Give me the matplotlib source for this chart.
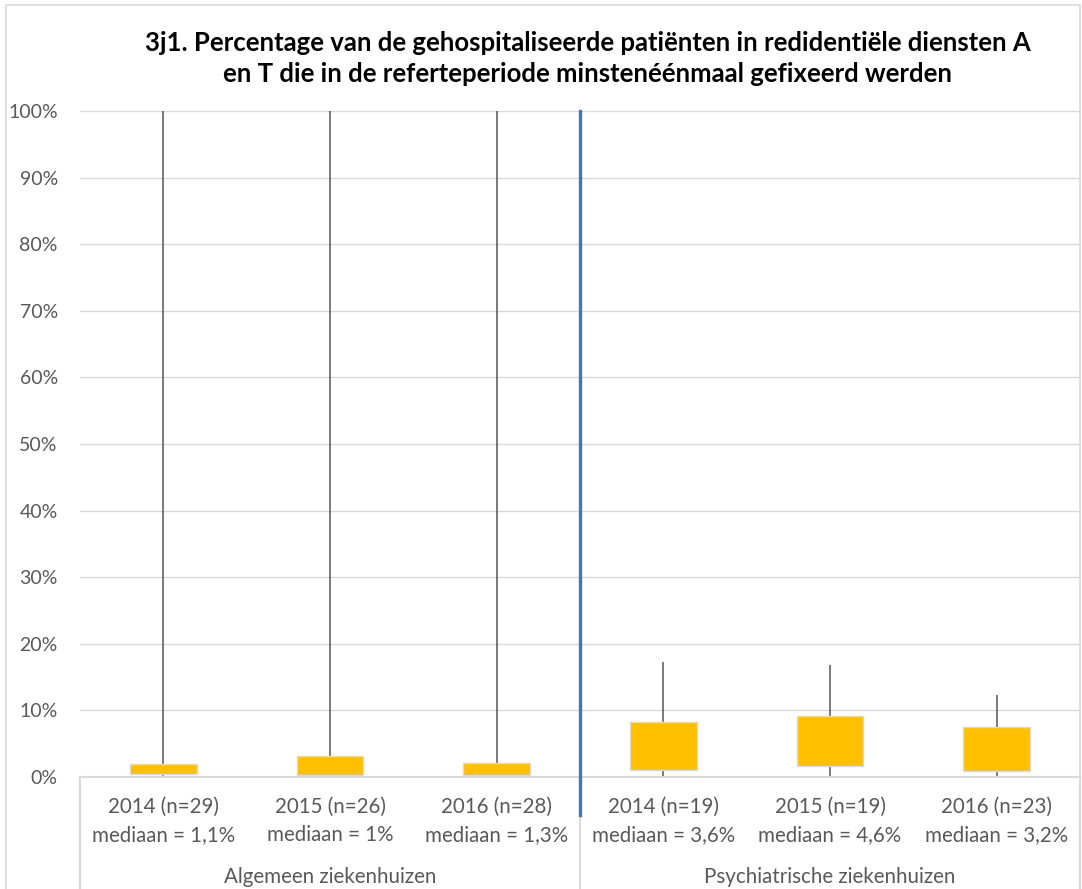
import matplotlib.pyplot as plt
from matplotlib.patches import Rectangle

years = ['2014 (n=29)', '2015 (n=26)', '2016 (n=28)',
         '2014 (n=19)', '2015 (n=19)', '2016 (n=23)']
medians = ['mediaan = 1,1%', 'mediaan = 1%', 'mediaan = 1,3%',
           'mediaan = 3,6%', 'mediaan = 4,6%', 'mediaan = 3,2%']
groups = ['Algemeen ziekenhuizen', 'Psychiatrische ziekenhuizen']

# percentages
whisker_low = [0, 0, 0, 0, 0, 0]
q1 = [0.45, 0.3, 0.3, 1.1, 1.65, 0.85]
q3 = [1.95, 3.2, 2.15, 8.3, 9.2, 7.45]
whisker_high = [100, 100, 100, 17.2, 16.8, 12.3]

plt.rcParams['font.family'] = ['Lato', 'DejaVu Sans']
grey = '#595959'

fig = plt.figure(figsize=(10.82, 8.89), dpi=100)
ax = fig.add_axes([80 / 1082, 112 / 889, 1000 / 1082, 666 / 889])

x = list(range(len(years)))
ax.vlines(x, whisker_low, whisker_high, color='#555555', lw=1.1, zorder=2)
ax.bar(x, [h - l for l, h in zip(q1, q3)], bottom=q1, width=0.4,
       color='#FFC000', edgecolor='#d9d9d9', linewidth=1, zorder=3)

ax.set_xlim(-0.5, 5.5)
ax.set_ylim(0, 100)
ax.set_yticks(range(0, 101, 10))
ax.set_yticklabels([f'{v}%' for v in range(0, 101, 10)])
ax.tick_params(axis='y', length=0, pad=16, labelsize=14, labelcolor=grey)
ax.set_xticks([])
ax.grid(axis='y', color='#d9d9d9', lw=1)
ax.set_axisbelow(True)
for s in ['top', 'left', 'right']:
    ax.spines[s].set_visible(False)
ax.spines['bottom'].set_color('#d9d9d9')
ax.spines['bottom'].set_linewidth(1.5)

# category labels under the axis
for i in x:
    ax.annotate(years[i], (i, 0), xycoords=('data', 'axes fraction'),
                xytext=(0, -30), textcoords='offset pixels',
                ha='center', va='center', fontsize=14.8, color=grey)
    ax.annotate(medians[i], (i, 0), xycoords=('data', 'axes fraction'),
                xytext=(0, -58), textcoords='offset pixels',
                ha='center', va='center', fontsize=14.8, color=grey)
for g, gx in zip(groups, [1, 4]):
    ax.annotate(g, (gx, 0), xycoords=('data', 'axes fraction'),
                xytext=(0, -100), textcoords='offset pixels',
                ha='center', va='center', fontsize=14.8, color=grey)

# separators of the category axis
for sx in [-0.5, 2.5, 5.5]:
    ax.annotate('', (sx, 0), xycoords=('data', 'axes fraction'),
                xytext=(sx, -0.2), textcoords=('data', 'axes fraction'),
                arrowprops=dict(arrowstyle='-', color='#d9d9d9', lw=1.5,
                                shrinkA=0, shrinkB=0))

# blue divider between the two hospital types
ax.plot([2.5, 2.5], [100, -5.7], color='#4472C4', lw=2.4,
        clip_on=False, zorder=4)

fig.text(0.543, 0.934, '3j1. Percentage van de gehospitaliseerde patiënten in redidentiële diensten A\n'
         'en T die in de referteperiode minstenéénmaal gefixeerd werden',
         ha='center', va='center', fontsize=18.5, fontweight='bold',
         linespacing=1.33, color='#000000')

fig.add_artist(Rectangle((6 / 1082, -0.01), 1074 / 1082, 1 - 5 / 889 + 0.01,
                         transform=fig.transFigure, fill=False,
                         edgecolor='#d9d9d9', lw=1.2))

fig.savefig('out.png', dpi=100)
